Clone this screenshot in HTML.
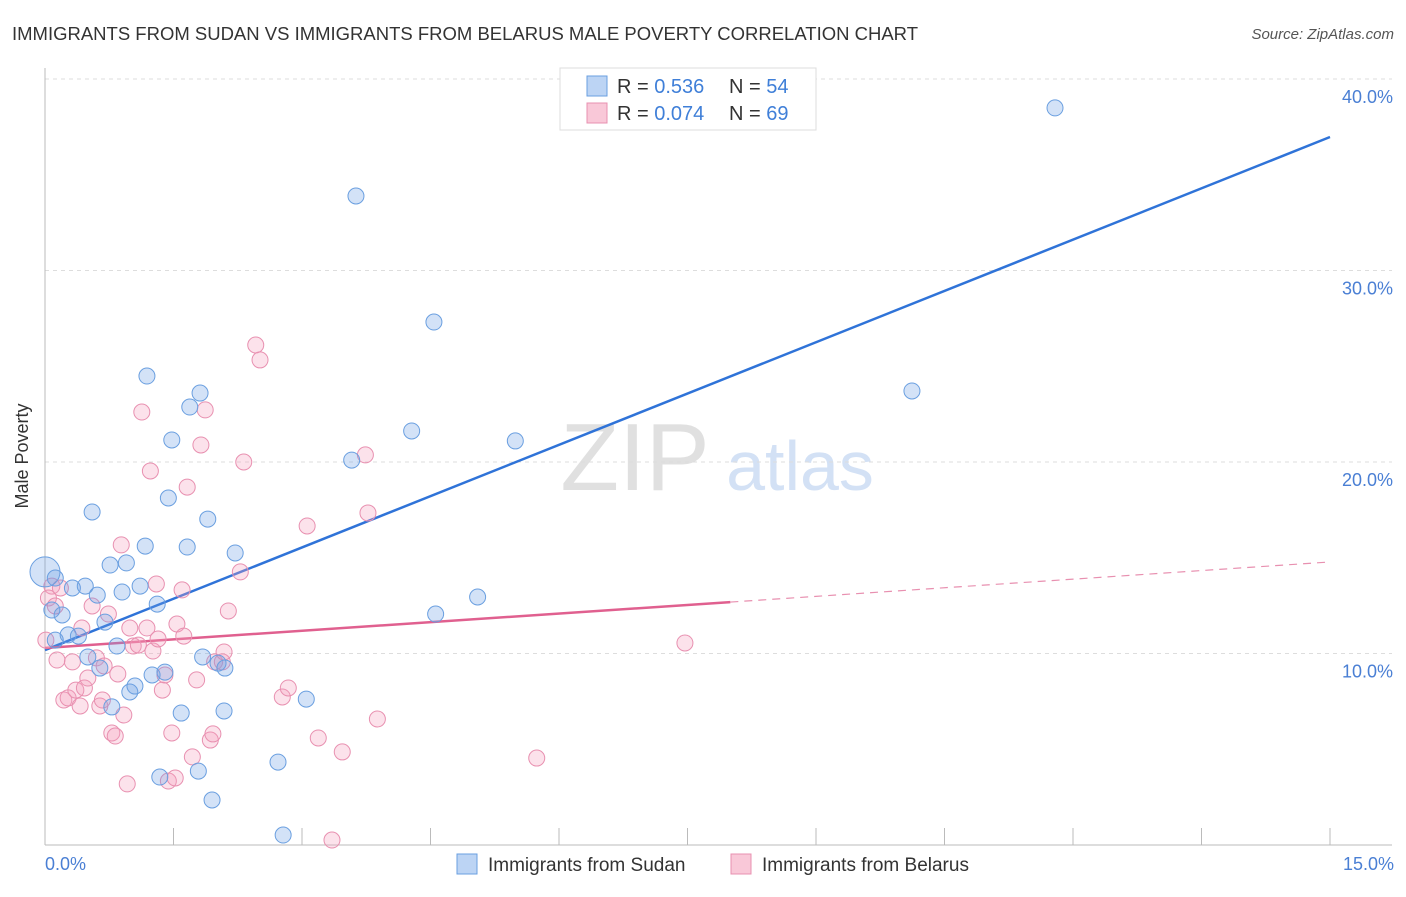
<!DOCTYPE html>
<html><head><meta charset="utf-8"><style>
body{margin:0;background:#fff;font-family:"Liberation Sans",sans-serif;}
svg text{font-family:"Liberation Sans",sans-serif;}
</style></head><body>
<svg id="chart" width="1406" height="892" viewBox="0 0 1406 892">
<text x="12" y="40" font-size="18" fill="#333" textLength="906" lengthAdjust="spacingAndGlyphs">IMMIGRANTS FROM SUDAN VS IMMIGRANTS FROM BELARUS MALE POVERTY CORRELATION CHART</text>
<text x="1394" y="39" font-size="15" fill="#555" text-anchor="end" font-style="italic">Source: ZipAtlas.com</text>
<g>
<text x="635" y="490" font-size="96" fill="#e0e0e0" text-anchor="middle" font-family="Liberation Serif,serif">ZIP</text>
<text x="800" y="490" font-size="70" fill="#d3e1f5" text-anchor="middle">atlas</text>
</g>
<g id="grid"></g>
<g id="axes"></g>
<g id="lines"></g>
<g id="points"></g>
<text x="28" y="456" font-size="18" fill="#333" text-anchor="middle" transform="rotate(-90 28 456)">Male Poverty</text>
<text x="45" y="870" font-size="18" fill="#4a7fd4">0.0%</text>
<text x="1394" y="870" font-size="18" fill="#4a7fd4" text-anchor="end">15.0%</text>
<g>
<rect x="560" y="68" width="256" height="62" fill="#fff" stroke="#ddd"/>
<rect x="587" y="76" width="20" height="20" fill="#bcd4f4" stroke="#6a9fe0"/>
<text x="617" y="93" font-size="20" fill="#333">R = <tspan fill="#3f7fd8">0.536</tspan></text>
<text x="729" y="93" font-size="20" fill="#333">N = <tspan fill="#3f7fd8">54</tspan></text>
<rect x="587" y="103" width="20" height="20" fill="#f9c8d8" stroke="#e890b0"/>
<text x="617" y="120" font-size="20" fill="#333">R = <tspan fill="#3f7fd8">0.074</tspan></text>
<text x="729" y="120" font-size="20" fill="#333">N = <tspan fill="#3f7fd8">69</tspan></text>
</g>
<g>
<rect x="457" y="854" width="20" height="20" fill="#bcd4f4" stroke="#6a9fe0"/>
<text x="488" y="871" font-size="19" fill="#333">Immigrants from Sudan</text>
<rect x="731" y="854" width="20" height="20" fill="#f9c8d8" stroke="#e890b0"/>
<text x="762" y="871" font-size="19" fill="#333">Immigrants from Belarus</text>
</g>
</svg>
<script>
const yTicks=[10,20,30,40];
const xTickCount=10;
const sudanX=[0.00,0.12,0.08,0.20,0.12,0.27,0.39,0.32,0.47,0.55,0.61,0.50,0.64,0.70,0.76,0.78,0.84,0.90,0.95,0.99,1.05,1.11,1.17,1.19,1.25,1.31,1.34,1.40,1.44,1.48,1.66,1.69,1.81,1.79,1.59,1.90,1.95,1.84,2.02,2.09,2.10,2.22,2.72,2.78,3.05,3.58,3.63,4.28,4.54,4.56,5.05,5.49,10.12,11.79];
const sudanY=[14.26,13.94,12.27,12.01,10.70,10.97,10.91,13.42,13.52,17.39,13.05,9.82,9.24,11.64,14.62,7.21,10.39,13.21,14.73,7.99,8.30,13.52,15.61,24.49,8.88,12.58,3.55,9.03,18.12,21.15,15.56,22.87,23.60,3.86,6.89,17.02,2.35,9.82,9.50,7.00,9.24,15.25,4.33,0.52,7.62,20.10,33.89,21.62,27.31,12.06,12.95,21.10,23.71,38.49];
const belarusX=[0.08,0.04,0.14,0.18,0.22,0.27,0.32,0.36,0.41,0.46,0.50,0.55,0.60,0.64,0.69,0.74,0.78,0.82,0.85,0.89,0.92,0.96,0.99,1.03,1.09,1.13,1.19,1.23,1.26,1.30,1.32,1.37,1.40,1.44,1.48,1.52,1.54,1.60,1.62,1.66,1.72,1.77,1.82,1.87,1.93,1.96,1.98,2.07,2.09,2.14,2.28,2.32,2.46,2.51,2.77,2.84,3.06,3.19,3.35,3.47,3.74,3.77,3.88,5.74,7.47,0.12,0.01,0.43,0.67];
const belarusY=[13.52,12.90,9.66,13.42,7.57,7.68,9.56,8.09,7.26,8.20,8.72,12.48,9.77,7.26,9.35,12.06,5.85,5.69,8.93,15.67,6.79,3.19,11.33,10.39,10.44,22.61,11.33,19.53,10.13,13.63,10.76,8.09,8.88,3.34,5.85,3.50,11.54,13.32,10.91,18.69,4.60,8.62,20.89,22.72,5.48,5.80,9.56,9.56,10.08,12.22,14.26,20.00,26.11,25.33,7.73,8.20,16.66,5.59,0.26,4.86,20.37,17.34,6.58,4.54,10.55,12.48,10.70,11.33,7.57];
const sudanFit=[10.18,36.97];
const belarusFit=[10.29,14.78];
const belarusSolidEnd=8.0;

const NS="http://www.w3.org/2000/svg";
const X0=45,X1=1330,Y0=845,PPY=19.15;
function sx(v){return X0+v/15*(X1-X0);}
function sy(v){return Y0-v*PPY;}
function mk(tag,attrs,parent){const e=document.createElementNS(NS,tag);for(const k in attrs)e.setAttribute(k,attrs[k]);parent.appendChild(e);return e;}
const grid=document.getElementById('grid'),axes=document.getElementById('axes'),lines=document.getElementById('lines'),pts=document.getElementById('points');
yTicks.forEach(t=>{
  const l=mk('line',{x1:45,x2:1392,y1:sy(t),y2:sy(t),stroke:'#ddd','stroke-dasharray':'4,4'},grid);
  
  
  const tx=mk('text',{x:1393,y:sy(t)+24,'font-size':18,fill:'#4a7fd4','text-anchor':'end'},grid);
  tx.textContent=t.toFixed(1)+'%';
  
  
});
const ya=mk('line',{x1:45,x2:45,y1:68,y2:845,stroke:'#bbb'},axes);


const xa=mk('line',{x1:45,x2:1392,y1:845,y2:845,stroke:'#bbb'},axes);


for(let i=0;i<=xTickCount;i++){
  const x=sx(i*15/xTickCount);
  const t=mk('line',{x1:x,x2:x,y1:828,y2:845,stroke:'#bbb'},axes);
  
  
}
function drawPts(xs,ys,fill,stroke,name){
  xs.forEach((v,i)=>{
    const r=(name==='sudan-point'&&i===0)?15:8;
    const c=mk('circle',{cx:sx(v),cy:sy(ys[i]),r:r,fill:fill,stroke:stroke,'stroke-width':1},pts);
    
    
  });
}
drawPts(belarusX,belarusY,'rgba(244,160,190,0.3)','#e890b0','belarus-point');
drawPts(sudanX,sudanY,'rgba(110,160,230,0.3)','#6a9fe0','sudan-point');
const bl=mk('line',{x1:sx(0),y1:sy(sudanFit[0]),x2:sx(15),y2:sy(sudanFit[1]),stroke:'#2f73d8','stroke-width':2.5},lines);


const pm=belarusFit[0]+(belarusFit[1]-belarusFit[0])*belarusSolidEnd/15;
const pl=mk('line',{x1:sx(0),y1:sy(belarusFit[0]),x2:sx(belarusSolidEnd),y2:sy(pm),stroke:'#e0608f','stroke-width':2.5},lines);


const pd=mk('line',{x1:sx(belarusSolidEnd),y1:sy(pm),x2:sx(15),y2:sy(belarusFit[1]),stroke:'#e890b0','stroke-width':1.2,'stroke-dasharray':'8,6'},lines);


</script>
</body></html>
